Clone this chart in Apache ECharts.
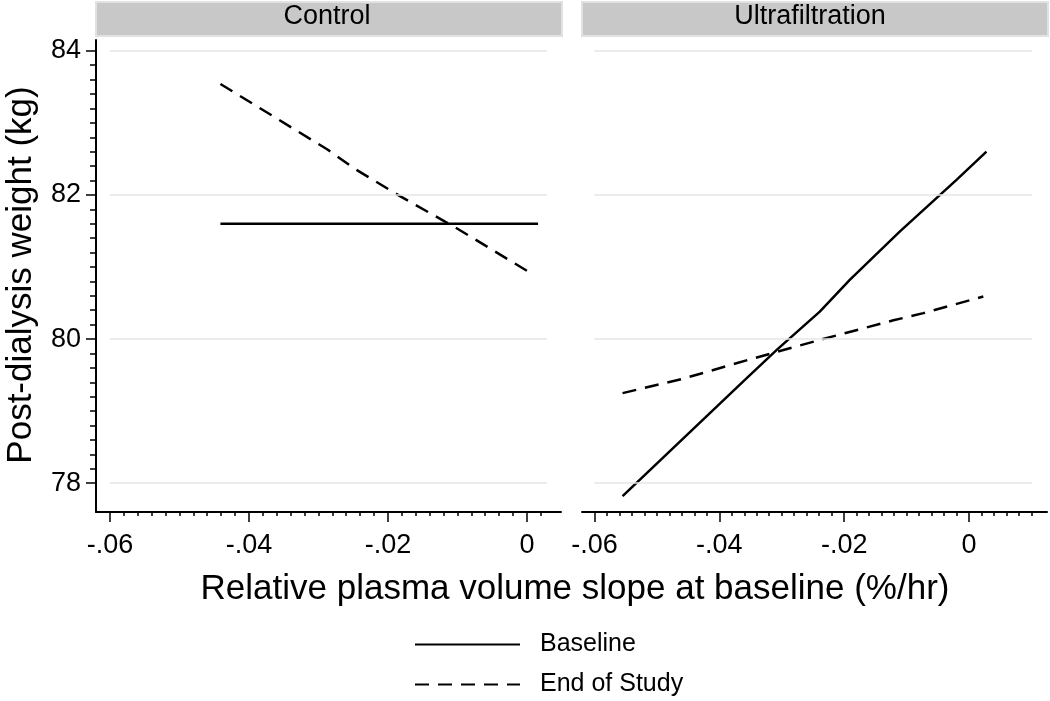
<!DOCTYPE html>
<html>
<head>
<meta charset="utf-8">
<script src="https://cdn.jsdelivr.net/npm/echarts@6/dist/echarts.min.js"></script>
<style>
  html, body { margin: 0; padding: 0; background: #fff; }
  #chart { width: 1050px; height: 701px; }
</style>
</head>
<body>
<div id="chart"></div>
<script>
// panel names and legend entries
const panels = ['Control', 'Ultrafiltration'];
const lineNames = ['Baseline', 'End of Study'];

// tick values
const yMajor = [78, 80, 82, 84];
const xMajor = [-0.06, -0.04, -0.02, 0];

// fitted lines: [slope, weight]
const controlBaseline = [[-0.0441, 81.6], [0.0016, 81.6]];
const controlEnd = [[-0.0441, 83.54], [-0.0287, 82.63], [-0.0249, 82.37], [-0.0182, 81.98], [-0.0105, 81.56], [0.0003, 80.93]];
const ufBaseline = [[-0.0555, 77.82], [-0.0362, 79.41], [-0.0308, 79.85], [-0.0239, 80.38], [-0.0191, 80.82], [-0.0111, 81.49], [-0.0020, 82.21], [0.0028, 82.60]];
const ufEnd = [[-0.0555, 79.25], [-0.0458, 79.45], [-0.0346, 79.73], [-0.0234, 80.00], [-0.0121, 80.26], [-0.0073, 80.36], [0.0023, 80.59]];

const FONT = '"Liberation Sans", Arial, Helvetica, sans-serif';

// minor tick positions
function steps(from, to, step, digits) {
  const out = [];
  const n = Math.round((to - from) / step);
  for (let i = 0; i <= n; i++) out.push(+(from + i * step).toFixed(digits));
  return out;
}
const yMinor = steps(78, 84, 0.2, 1);
const xMinorLeft = steps(-0.06, 0.002, 0.002, 3);
const xMinorRight = steps(-0.06, 0.010, 0.002, 3);

function fmtX(v) {
  if (Math.abs(v) < 1e-9) return '0';
  return (v < 0 ? '-' : '') + String(+Math.abs(v).toFixed(3)).replace(/^0/, '');
}

const yMin = 77.6, yMax = 84.15;
const xMin = -0.062;
const xMaxLeft = 0.0049, xMaxRight = 0.0125;

const axisLineStyle = { color: '#000', width: 2 };

function minorX(grid, max, ticks) {
  return {
    gridIndex: grid, type: 'value', position: 'bottom', min: xMin, max: max,
    axisLine: { show: true, onZero: false, lineStyle: axisLineStyle },
    axisTick: { show: true, customValues: ticks, length: 4, lineStyle: { color: '#000', width: 1.5 } },
    axisLabel: { show: false },
    splitLine: { show: false }
  };
}
function majorX(grid, max) {
  return {
    gridIndex: grid, type: 'value', position: 'bottom', min: xMin, max: max,
    axisLine: { show: false, onZero: false },
    axisTick: { show: true, customValues: xMajor, length: 10, lineStyle: { color: '#000', width: 1.5 } },
    axisLabel: { show: true, customValues: xMajor, formatter: fmtX, color: '#000', fontSize: 27, fontFamily: FONT, margin: 20 },
    splitLine: { show: false }
  };
}

// light horizontal reference lines, inset like the original
function gridLines(xTo) {
  return {
    silent: true, symbol: 'none', label: { show: false },
    lineStyle: { color: '#e6e6e6', width: 1.5, type: 'solid' },
    data: yMajor.map(v => [{ coord: [-0.06, v] }, { coord: [xTo, v] }])
  };
}

function lineSeries(name, data, xi, yi, dashed, extra) {
  const s = {
    name: name, type: 'line', data: data,
    xAxisIndex: xi, yAxisIndex: yi,
    symbol: 'none', smooth: false, animation: false,
    lineStyle: { color: '#000', width: 2.5, type: dashed ? [14, 9] : 'solid' },
    itemStyle: { color: '#000' }
  };
  return Object.assign(s, extra || {});
}

const option = {
  backgroundColor: '#fff',
  animation: false,
  grid: [
    { left: 96, top: 40, width: 465, height: 472 },
    { left: 582, top: 40, width: 465, height: 472 }
  ],
  xAxis: [
    minorX(0, xMaxLeft, xMinorLeft),
    majorX(0, xMaxLeft),
    minorX(1, xMaxRight, xMinorRight),
    majorX(1, xMaxRight)
  ],
  yAxis: [
    {
      gridIndex: 0, type: 'value', position: 'left', min: yMin, max: yMax,
      axisLine: { show: true, onZero: false, lineStyle: axisLineStyle },
      axisTick: { show: true, customValues: yMinor, length: 6, lineStyle: { color: '#000', width: 1.5 } },
      axisLabel: { show: false },
      splitLine: { show: false }
    },
    {
      gridIndex: 0, type: 'value', position: 'left', min: yMin, max: yMax,
      axisLine: { show: false, onZero: false },
      axisTick: { show: true, customValues: yMajor, length: 10, lineStyle: { color: '#000', width: 1.5 } },
      axisLabel: { show: true, customValues: yMajor, color: '#000', fontSize: 27, fontFamily: FONT, margin: 15 },
      splitLine: { show: false }
    },
    {
      gridIndex: 1, type: 'value', position: 'left', min: yMin, max: yMax, show: false,
      axisLine: { onZero: false }, splitLine: { show: false }
    }
  ],
  legend: {
    data: lineNames,
    orient: 'vertical',
    left: 414, top: 632,
    padding: 0,
    itemWidth: 105, itemHeight: 14, itemGap: 15,
    selectedMode: false,
    itemStyle: { opacity: 0 },
    textStyle: { color: '#000', fontSize: 25, lineHeight: 25, fontFamily: FONT, padding: [0, 0, 0, 15] }
  },
  graphic: [
    { type: 'rect', shape: { x: 96, y: 2, width: 466, height: 34 }, style: { fill: '#c8c8c8', stroke: '#e2e2e2', lineWidth: 2 } },
    { type: 'rect', shape: { x: 582, y: 2, width: 466, height: 34 }, style: { fill: '#c8c8c8', stroke: '#e2e2e2', lineWidth: 2 } },
    { type: 'text', x: 327, y: 17, style: { text: panels[0], fill: '#000', font: '27px ' + FONT, textAlign: 'center', textVerticalAlign: 'middle' } },
    { type: 'text', x: 810, y: 17, style: { text: panels[1], fill: '#000', font: '27px ' + FONT, textAlign: 'center', textVerticalAlign: 'middle' } },
    { type: 'text', x: 575, y: 589, style: { text: 'Relative plasma volume slope at baseline (%/hr)', fill: '#000', font: '35px ' + FONT, textAlign: 'center', textVerticalAlign: 'middle' } },
    { type: 'text', x: 21, y: 275, rotation: Math.PI / 2, style: { text: 'Post-dialysis weight (kg)', fill: '#000', font: '35px ' + FONT, textAlign: 'center', textVerticalAlign: 'middle' } }
  ],
  series: [
    lineSeries(lineNames[0], controlBaseline, 1, 1, false, { markLine: gridLines(0.0029), z: 3 }),
    lineSeries(lineNames[1], controlEnd, 1, 1, true, { z: 3 }),
    lineSeries(lineNames[0], ufBaseline, 3, 2, false, { markLine: gridLines(0.0101), z: 3 }),
    lineSeries(lineNames[1], ufEnd, 3, 2, true, { z: 3 })
  ]
};

const chart = echarts.init(document.getElementById('chart'), null, { renderer: 'canvas' });
chart.setOption(option);
</script>
</body>
</html>
